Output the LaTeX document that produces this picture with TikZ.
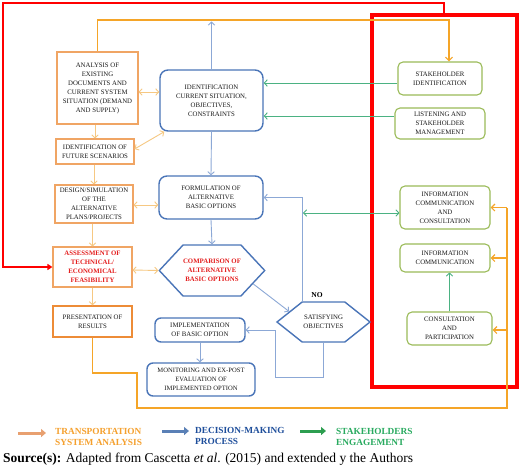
\documentclass[tikz,border=0pt]{standalone}
\usepackage{fontspec}
\setmainfont{Liberation Serif}
\usetikzlibrary{arrows.meta,shapes.symbols,calc}
\definecolor{oB}{RGB}{240,165,100}
\definecolor{oP}{RGB}{237,140,55}
\definecolor{oL}{RGB}{245,165,40}
\definecolor{oD}{RGB}{246,200,130}
\definecolor{bB}{RGB}{74,117,184}
\definecolor{bL}{RGB}{140,168,214}
\definecolor{gB}{RGB}{155,187,89}
\definecolor{gL}{RGB}{75,178,130}
\definecolor{rT}{RGB}{228,30,30}
\definecolor{legO}{RGB}{245,160,45}
\definecolor{legOA}{RGB}{232,160,112}
\definecolor{legB}{RGB}{30,78,155}
\definecolor{legBA}{RGB}{90,128,182}
\definecolor{legG}{RGB}{40,170,95}
\definecolor{legGA}{RGB}{45,158,80}
\tikzset{
  tx/.style={align=center, font=\fontsize{6.8}{9}\selectfont, text=black!90, inner sep=0pt},
  obox/.style={tx, draw=oB, line width=1.1pt, rectangle},
  bbox/.style={tx, draw=bB, line width=1.4pt, rounded corners=6pt},
  gbox/.style={tx, draw=gB, line width=1.1pt, rounded corners=5pt},
  hexa/.style={tx, draw=bB, line width=1.4pt, shape=signal, signal to=west and east},
  oarr/.style={draw=oD, line width=0.9pt, -{Straight Barb[length=3pt,width=6.5pt]}},
  odbl/.style={draw=oD, line width=0.9pt, {Straight Barb[length=3pt,width=6.5pt]}-{Straight Barb[length=3pt,width=6.5pt]}},
  oline/.style={draw=oL, line width=1.2pt},
  oarrL/.style={draw=oL, line width=1.2pt, -{Straight Barb[length=3.5pt,width=7pt]}},
  barr/.style={draw=bL, line width=0.9pt, -{Straight Barb[length=3pt,width=6.5pt]}},
  garr/.style={draw=gL, line width=0.9pt, -{Straight Barb[length=3pt,width=6.5pt]}},
  gdbl/.style={draw=gL, line width=0.9pt, {Straight Barb[length=3pt,width=6.5pt]}-{Straight Barb[length=3pt,width=6.5pt]}},
  redl/.style={draw=red, line width=2pt, -{Triangle[length=5pt,width=6pt]}},
  legtx/.style={align=left, anchor=west, font=\fontsize{9.3}{11}\selectfont\bfseries, inner sep=0pt},
  legarr/.style={line width=3pt, -{Triangle[length=5pt,width=8pt]}}
}
\begin{document}
\begin{tikzpicture}[x=1pt,y=-1pt]
\useasboundingbox[fill=white] (0,0) rectangle (520,469);

% big red stakeholder frame
\node[draw=red, line width=4pt, minimum width=145pt, minimum height=372pt, inner sep=0pt] (stk) at (444.5,201) {};

% transport analysis column
\node[obox, minimum width=81pt, minimum height=72pt] (ana) at (97.5,88) {ANALYSIS OF\\EXISTING\\DOCUMENTS AND\\CURRENT SYSTEM\\SITUATION (DEMAND\\AND SUPPLY)};
\node[obox, minimum width=78pt, minimum height=25pt] (fut) at (95,151.5) {IDENTIFICATION OF\\FUTURE SCENARIOS};
\node[obox, minimum width=78pt, minimum height=38pt] (des) at (94,204) {DESIGN/SIMULATION\\OF THE\\ALTERNATIVE\\PLANS/PROJECTS};
\node[obox, minimum width=79pt, minimum height=40pt, text=rT, font=\fontsize{6.8}{9}\selectfont\bfseries] (ass) at (92.5,267) {ASSESSMENT OF\\TECHNICAL/\\ECONOMICAL\\FEASIBILITY};
\node[obox, draw=oP, line width=1.5pt, minimum width=79pt, minimum height=31pt] (pre) at (92.5,321.5) {PRESENTATION OF\\RESULTS};

% decision-making column
\node[bbox, rounded corners=8pt, minimum width=103pt, minimum height=61pt] (idc) at (211.5,100.5) {IDENTIFICATION\\CURRENT SITUATION,\\OBJECTIVES,\\CONSTRAINTS};
\node[bbox, rounded corners=8pt, minimum width=104pt, minimum height=43pt] (for) at (211,197.5) {FORMULATION OF\\ALTERNATIVE\\BASIC OPTIONS};
\node[hexa, signal pointer angle=94, minimum width=102pt, minimum height=51pt, text=rT, font=\fontsize{6.8}{9}\selectfont\bfseries] (cmp) at (212,270.5) {COMPARISON OF\\ALTERNATIVE\\BASIC OPTIONS};
\node[hexa, signal pointer angle=77, minimum width=93pt, minimum height=40pt] (sat) at (323.5,322) {SATISFYING\\OBJECTIVES};
\node[font=\fontsize{7.5}{8}\selectfont\bfseries, inner sep=0pt] (nolab) at (317,295) {NO};
\node[bbox, minimum width=90pt, minimum height=24pt] (imp) at (200,330) {IMPLEMENTATION\\OF BASIC OPTION};
\node[bbox, minimum width=108pt, minimum height=33pt, font=\fontsize{6.6}{9}\selectfont] (mon) at (201,379.5) {MONITORING AND EX-POST\\EVALUATION OF\\IMPLEMENTED OPTION};

% stakeholder column
\node[gbox, minimum width=84pt, minimum height=33pt] (sid) at (440,78.5) {STAKEHOLDER\\IDENTIFICATION};
\node[gbox, minimum width=90pt, minimum height=31pt] (lis) at (440,123.5) {LISTENING AND\\STAKEHOLDER\\MANAGEMENT};
\node[gbox, minimum width=90pt, minimum height=43pt] (icc) at (445,207.5) {INFORMATION\\COMMUNICATION\\AND\\CONSULTATION};
\node[gbox, minimum width=90pt, minimum height=28pt] (ic) at (445,258) {INFORMATION\\COMMUNICATION};
\node[gbox, minimum width=85pt, minimum height=33pt] (cp) at (449.5,328.5) {CONSULTATION\\AND\\PARTICIPATION};

% helper coordinates
\coordinate (ytop) at (0,21.5);
\coordinate (otr) at (449,20);
\coordinate (rc) at (444,3);
\coordinate (rl) at (3,267);
\coordinate (pl1) at (137,373);
\coordinate (pl2) at (507,408);
\coordinate (sb) at (275,377);
\coordinate (gd) at (303,213);

% red feedback line
\draw[redl] (rc |- stk.north) -- (rc) -| (rl) -- (ass.west);

% orange top line
\draw[oarrL] (ana.north) |- (otr) -- ([xshift=9pt]sid.north);
% blue up arrow
\draw[barr] (idc.north) -- (idc.north |- ytop);

% orange vertical chain
\draw[oarr] (fut.north |- ana.south) -- (fut.north);
\draw[oarr] (des.north |- fut.south) -- (des.north);
\draw[oarr] (ass.north |- des.south) -- (ass.north);
\draw[oarr] (ass.south) -- (pre.north);

% orange double arrows
\draw[odbl] ([yshift=-4pt]ana.east) -- ([yshift=-4pt]ana.east -| idc.west);
\draw[odbl] ([yshift=2.5pt]fut.east) -- ([xshift=5pt]idc.south west);
\draw[odbl] ([yshift=-1pt]des.east) -- ([yshift=-1pt]des.east -| for.west);
\draw[odbl] ([yshift=-3pt]ass.east) -- (cmp.west);

% orange loop to stakeholders
\draw[oline] (pre.south) |- (pl1) |- (pl2) -- (pl2 |- icc.east);
\draw[oarrL] (pl2 |- icc.east) -- (icc.east);
\draw[oarrL] (pl2 |- ic.east) -- (ic.east);
\draw[oarrL] ([yshift=-1.5pt]pl2 |- cp.east) -- ([yshift=-1.5pt]cp.east);

% blue flow
\draw[barr] (idc.south) -- (for.north);
\draw[barr] (for.south) -- (cmp.north);
\draw[barr] (cmp.-18) -- (sat.163);
\draw[barr] ([xshift=-21.5pt]sat.north) |- (for.east);
\draw[barr] (sat.south) |- (sb) |- (imp.east);
\draw[barr] (imp.south) -- (imp.south |- mon.north);

% green arrows
\draw[garr] ([yshift=-4.5pt]sid.west) -- ([yshift=-4.5pt]sid.west -| idc.east);
\draw[garr] ([yshift=7.5pt]lis.west) -- ([yshift=7.5pt]lis.west -| idc.east);
\draw[gdbl] (gd) -- (gd -| icc.west);
\draw[garr] (cp.north) -- (cp.north |- ic.south);

% legend
\coordinate (lo1) at (18,433); \coordinate (lo2) at (46,433);
\coordinate (lb1) at (162,431); \coordinate (lb2) at (189,431);
\coordinate (lg1) at (300,431); \coordinate (lg2) at (326,431);
\draw[legarr, legOA] (lo1) -- (lo2);
\draw[legarr, legBA] (lb1) -- (lb2);
\draw[legarr, legGA] (lg1) -- (lg2);
\node[legtx, text=legO] (lego) at (55,437) {TRANSPORTATION\\SYSTEM ANALYSIS};
\node[legtx, text=legB] (legb) at (195,435.5) {DECISION-MAKING\\PROCESS};
\node[legtx, text=legG] (legg) at (336,437) {STAKEHOLDERS\\ENGAGEMENT};

\node[anchor=west, inner sep=0pt, font=\fontsize{13.5}{15}\selectfont] (src) at (3,459) {\textbf{Source(s):} Adapted from Cascetta \textit{et al}. (2015) and extended y the Authors};
\end{tikzpicture}
\end{document}
